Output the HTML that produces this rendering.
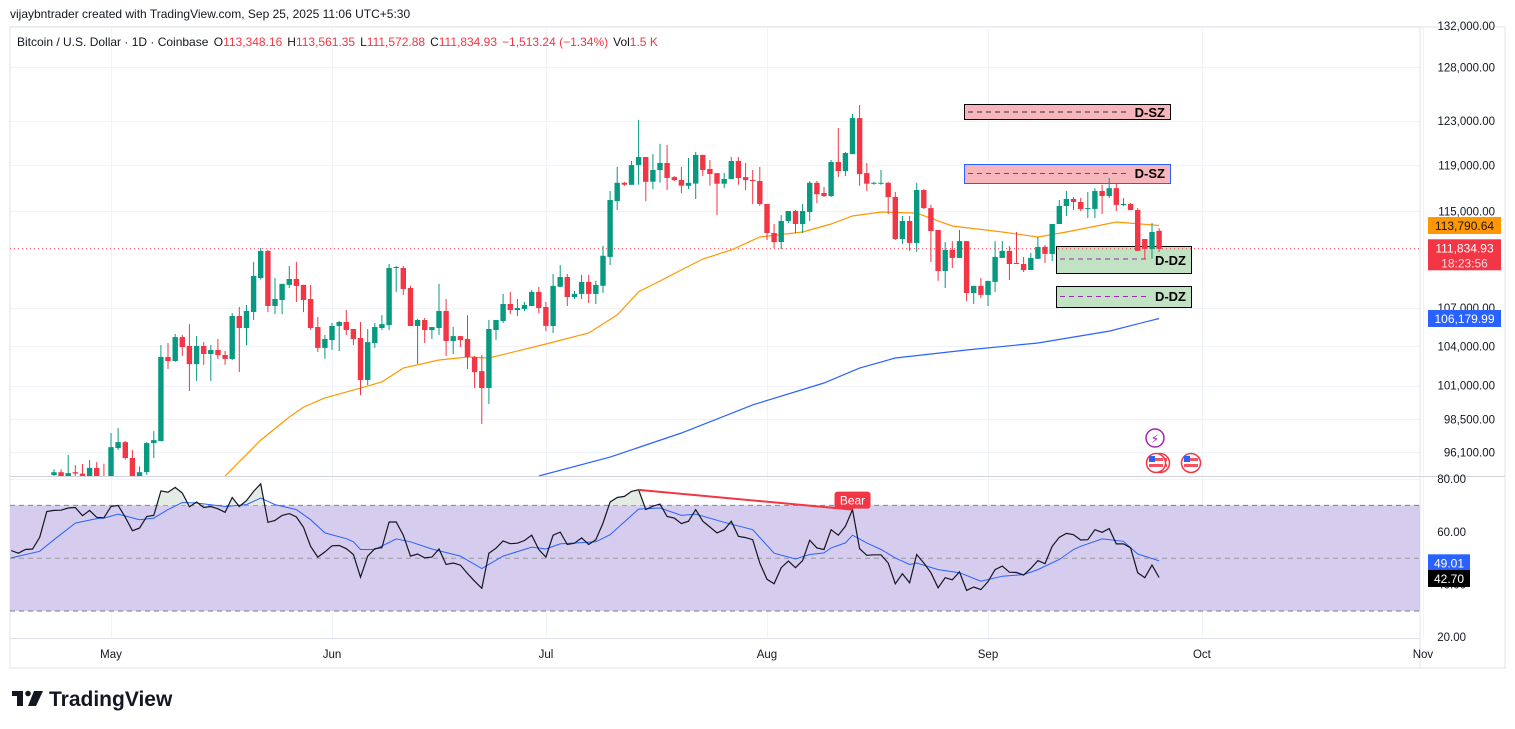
<!DOCTYPE html>
<html><head><meta charset="utf-8"><style>
html,body{margin:0;padding:0;background:#fff;}
svg{display:block;font-family:"Liberation Sans",sans-serif;}
</style></head><body>
<svg id="chart" width="1515" height="729" viewBox="0 0 1515 729">
<rect x="0" y="0" width="1515" height="729" fill="#fff"/>
<text x="10" y="18" font-size="12" fill="#131722">vijaybntrader created with TradingView.com, Sep 25, 2025 11:06 UTC+5:30</text>
<g id="grid"></g>
<g id="frame">
<rect x="10" y="27" width="1495" height="641" fill="none" stroke="#e0e3eb" stroke-width="1"/>
<line x1="1420" y1="27" x2="1420" y2="668" stroke="#e0e3eb"/>
<line x1="10" y1="476.5" x2="1505" y2="476.5" stroke="#d1d4dc"/>
<line x1="10" y1="638.5" x2="1420" y2="638.5" stroke="#e0e3eb"/>
</g>
<defs>
<clipPath id="mainClip"><rect x="10" y="27" width="1410" height="449"/></clipPath>
<clipPath id="rsiClip"><rect x="10" y="477" width="1410" height="161"/></clipPath>
<clipPath id="obClip"><rect x="10" y="477" width="1410" height="28.4"/></clipPath>
</defs>
<g id="zones" clip-path="url(#mainClip)">
<g>
<rect x="964.5" y="104.5" width="206" height="15" fill="#f7b6bb" stroke="#000" stroke-width="1"/>
<line x1="968" y1="112" x2="1128" y2="112" stroke="#333" stroke-dasharray="5,4"/>
<text x="1165" y="117" font-size="13" font-weight="bold" text-anchor="end" fill="#000">D-SZ</text></g>
<g>
<rect x="964.5" y="164.5" width="206" height="19" fill="#f7b6bb" stroke="#2962ff" stroke-width="1"/>
<line x1="968" y1="173.5" x2="1128" y2="173.5" stroke="#9c27b0" stroke-dasharray="5,4"/>
<text x="1165" y="178" font-size="13" font-weight="bold" text-anchor="end" fill="#000">D-SZ</text></g>
<g>
<rect x="1056.5" y="246.5" width="135" height="27" fill="#c2e3c3" stroke="#000" stroke-width="1"/>
<line x1="1060" y1="259" x2="1148" y2="259" stroke="#9c27b0" stroke-dasharray="5,4"/>
<text x="1186" y="265" font-size="13" font-weight="bold" text-anchor="end" fill="#000">D-DZ</text></g>
<g>
<rect x="1056.5" y="286.5" width="135" height="21" fill="#c2e3c3" stroke="#000" stroke-width="1"/>
<line x1="1060" y1="296.5" x2="1148" y2="296.5" stroke="#9c27b0" stroke-dasharray="5,4"/>
<text x="1186" y="301" font-size="13" font-weight="bold" text-anchor="end" fill="#000">D-DZ</text></g>
</g>
<g id="mainPane" clip-path="url(#mainClip)"></g>
<g id="rsiPane" clip-path="url(#rsiClip)"></g>
<g id="axes"></g>
<g font-size="12">
<text x="17" y="46" fill="#131722">Bitcoin / U.S. Dollar · 1D · Coinbase <tspan dx="2">O</tspan><tspan fill="#f23645">113,348.16</tspan><tspan dx="5">H</tspan><tspan fill="#f23645">113,561.35</tspan><tspan dx="5">L</tspan><tspan fill="#f23645">111,572.88</tspan><tspan dx="5">C</tspan><tspan fill="#f23645">111,834.93</tspan><tspan dx="5" fill="#f23645">−1,513.24 (−1.34%)</tspan><tspan dx="5">Vol</tspan><tspan fill="#f23645">1.5 K</tspan></text>
</g>
<g>
<circle cx="1155" cy="438" r="9" fill="#fff" stroke="#9c27b0" stroke-width="1.5"/>
<text x="1155" y="443" font-size="12" text-anchor="middle" fill="#9c27b0" font-family="DejaVu Sans">⚡</text>
<g><circle cx="1160" cy="463" r="9.5" fill="#fff" stroke="#f23645" stroke-width="1.5"/><rect x="1153" y="458" width="14" height="3" fill="#f7525f"/><rect x="1153" y="464" width="14" height="3" fill="#f7525f"/></g>
<g><circle cx="1156" cy="463" r="9.5" fill="#fff" stroke="#f23645" stroke-width="1.5"/><rect x="1149" y="458" width="14" height="3" fill="#f7525f"/><rect x="1149" y="464" width="14" height="3" fill="#f7525f"/><rect x="1149" y="456" width="6" height="6" fill="#2962ff"/></g>
<g><circle cx="1191" cy="463" r="9.5" fill="#fff" stroke="#f23645" stroke-width="1.5"/><rect x="1184" y="458" width="14" height="3" fill="#f7525f"/><rect x="1184" y="464" width="14" height="3" fill="#f7525f"/><rect x="1184" y="456" width="6" height="6" fill="#2962ff"/></g>
</g>
<g>
<rect x="12" y="691" width="11" height="5" fill="#131722"/><rect x="17" y="691" width="6" height="15" fill="#131722"/>
<circle cx="28" cy="693.5" r="2.8" fill="#131722"/><polygon points="34,691 43,691 36,706 28,706" fill="#131722"/>
<text x="49" y="706" font-size="21" font-weight="bold" fill="#131722">TradingView</text>
</g>
</svg>
<script>
// ---------- data ----------
const firstCandleDay = -8; // days relative to May 1
const opens = [94500,94700,94300,94700,94600,93900,95000,94300,
94200,96410,96840,95700,94200,94700,96770,96920,103180,102870,
104720,104030,102640,104030,103410,103720,103330,103030,106380,105430,
106690,109430,111660,107170,107650,108870,109350,108870,107730,105510,
103880,104490,105590,105900,105350,104650,101430,104260,105430,105660,
110250,110250,108620,105590,106060,105270,105430,106770,104410,104800,
104570,103180,102100,100820,105270,105980,107330,106850,106930,107170,
108300,107090,105590,108710,109510,107890,108140,109110,108140,108790,
111160,115880,117470,117300,119030,119750,117560,118590,119210,117970,
117710,117210,117390,119930,118680,118320,117390,117800,119390,117970,
117710,117630,115630,113160,112400,114170,115030,113920,114940,117470,
116580,116320,119300,118500,120010,123270,118320,117390,117390,117470,
116230,112650,114170,112320,116840,115280,113410,110000,111740,111080,
112480,108220,108790,108060,109110,111080,111660,110660,110580,110080,
111000,111990,111410,113920,115460,116060,115800,115200,115200,116750,
116320,117000,115550,115630,115110,112650,111820,113348.16];
const highs = [94900,94900,95920,95200,95280,95560,95420,95300,
97500,97860,96920,96270,95100,96840,97640,104100,104260,104960,
104880,105740,104800,104330,104100,104570,103640,106610,107100,107250,
110750,111910,111750,109430,108950,110410,110750,108870,108870,106300,
104880,105820,105980,106850,105350,105900,105350,105820,106450,110580,
110410,110410,108790,106140,106220,105510,108950,107730,105510,104800,
106450,103260,103330,106060,106060,108140,108300,107730,107490,108460,
108710,107490,109760,110490,109760,108380,109680,109680,109190,112080,
116750,118860,117550,119390,123090,119750,120010,120920,120820,118060,
118860,119660,120190,119930,119480,118320,118330,119750,119750,119210,
118590,118860,115630,113920,114680,115030,115110,115630,117630,117630,
117100,119480,122360,120190,123640,124480,119210,117550,118590,117550,
116670,114600,114600,117470,116920,115550,113410,112400,112480,113410,
112480,108790,109430,109190,112480,112480,112070,113240,111160,111490,
112820,112150,113920,115970,116750,116230,116140,116670,117000,117300,
117890,117470,116140,115720,115280,112650,114000,113561.35];
const lows = [94200,93200,93900,94100,93700,93500,93900,92900,
94000,96270,95600,94100,94000,94500,95700,96900,102260,102800,
103260,100600,101360,102570,101360,103030,102570,102950,102030,104100,
106060,109300,106690,106530,106530,108620,107490,106690,105270,103560,
103030,103720,103640,104880,104100,100290,101050,103880,105270,105270,
108300,108060,105590,102640,104260,104570,104880,103260,103410,103950,
102260,100820,98160,99630,104490,105820,106530,106380,106770,107170,
106610,105190,105040,108710,107170,107730,107730,107410,107330,108220,
110490,115110,117200,117300,117300,115880,116920,117470,116840,117630,
116550,116920,116060,118060,117210,114680,117000,117800,117300,116840,
115630,115460,112570,111910,111820,114000,113160,113160,114170,115710,
116230,116230,117970,118060,120010,117210,116750,117300,117300,114770,
112570,112230,111660,111580,115190,110740,109190,108620,110250,111080,
107570,107330,107810,107170,108300,111080,109270,110580,109920,110080,
111000,110660,110820,113920,114600,115110,115030,114430,114430,114770,
116140,115030,115460,115110,111660,111000,111000,111572.88];
const closes = [94700,94300,94630,94600,93900,95000,94300,94200,
96480,96840,95700,94300,94700,96770,96990,103180,102870,104720,
103950,102640,104030,103410,103720,103330,103030,106380,105430,106770,
109590,111660,107170,107730,108950,109350,108790,107650,105430,103880,
104570,105590,105900,105270,104570,101430,104330,105510,105740,110250,
110330,108540,105590,106060,105270,105510,106770,104410,104800,104490,
103180,102030,100820,105350,106060,107330,106850,107010,107250,108300,
107010,105590,108790,109510,107890,108140,109110,108140,108870,111250,
115970,117470,117300,119030,119750,117560,118590,119210,117890,117710,
117210,117470,119930,118590,118240,117390,117800,119390,117890,117710,
117630,115630,113160,112400,114170,115030,113920,115030,117470,116480,
116320,119300,118500,120100,123270,118240,117390,117470,117470,116230,
112650,114170,112320,116840,115280,113330,110000,111740,111080,112480,
108220,108790,108060,109190,111160,111660,110580,110580,110080,111080,
111990,111410,113920,115460,116060,115800,115200,115280,116750,116320,
117000,115550,115630,115110,111660,111820,113240,111834.93];
// EMA (orange) sampled: day index and value
const emaFastDays = [16,21,25,27,30,35,38,41,46,50,53,61,67,71,74,83,87,91,97,101,104,108,113,118,125,130,134,141,147];
const emaFastVals = [94430,96990,98670,99400,100080,100820,101280,102330,102950,103180,103100,104180,105040,106460,108300,110990,111740,112820,113240,113920,114600,114940,114850,113750,113240,112820,113240,114090,113790.64];
// EMA (blue) sampled
const emaSlowDays = [60,70,80,90,100,105,110,120,130,140,147];
const emaSlowVals = [94430,95770,97500,99560,101200,102330,103100,103720,104260,105190,106179.99];
// RSI
const rsiFirstDay = -14;
const rsiVals = [52.9,51.9,53.3,53.5,57.9,67.7,68.1,68.2,69.0,69.2,
66.1,68.1,65.5,65.3,69.6,70.0,65.5,60.4,61.4,65.8,
66.2,75.5,75.0,76.8,74.7,69.5,71.3,69.2,69.6,68.7,
67.4,73.0,69.6,71.8,75.3,78.2,63.6,64.3,66.2,66.9,
65.6,61.7,54.5,50.4,52.4,54.7,54.8,53.6,51.4,42.8,
50.8,53.6,54.0,63.7,63.7,58.7,50.8,51.6,50.1,50.4,
53.5,47.6,48.2,47.4,44.2,41.3,38.6,51.9,53.8,56.5,
55.5,55.7,56.7,58.7,53.3,50.4,58.7,59.9,55.2,55.7,
57.7,55.2,57.0,63.3,71.3,73.0,73.4,75.3,75.9,68.4,
69.7,70.5,65.8,65.2,63.1,64.0,68.4,64.0,61.8,59.6,
60.8,64.0,58.3,57.8,57.0,48.2,42.0,40.3,46.4,48.9,
46.4,49.1,56.8,53.9,53.3,60.8,58.7,62.1,68.4,53.6,
51.1,51.3,51.3,48.2,40.3,44.1,40.7,51.4,48.2,44.5,
38.8,42.6,41.8,44.8,37.8,39.1,38.1,41.1,45.7,47.0,
44.7,44.6,43.6,46.1,49.1,47.9,54.5,57.9,59.4,58.9,
56.9,57.0,60.8,59.8,61.2,55.4,55.4,53.9,44.5,42.6,
47.4,42.70];
const rsiMaIdx = [0,4,6,9,12,13,15,18,20,22,24,26,30,33,35,37,40,42,44,47,48,49,51,54,56,59,63,66,69,73,75,77,82,84,88,91,94,96,100,104,107,110,112,114,115,117,118,120,122,124,126,127,130,133,136,139,142,144,147,149,150,153,156,158,161];
const rsiMaVals = [50.1,52.6,57.0,63.3,65.0,65.2,66.7,64.6,65.2,68.4,71.1,70.9,69.6,70.3,72.8,70.3,68.4,64.6,59.6,57.4,56.2,53.3,53.3,57.3,56.2,53.5,50.8,46.1,50.8,54.2,53.5,55.4,56.2,58.9,68.6,69.0,66.2,66.7,63.6,60.8,51.9,49.7,51.4,52.0,53.9,55.8,58.7,55.8,53.3,50.1,47.6,48.2,45.7,44.5,41.3,43.2,43.8,45.7,49.5,53.3,54.5,57.3,56.4,51.6,49.01];
const bearFromIdx = 88, bearToIdx = 118;
// axis ticks
const priceTicks = [132000,128000,123000,119000,115000,107000,104000,101000,98500,96100];
const rsiTicks = [80,60,40,20];
const monthLabels = ["May","Jun","Jul","Aug","Sep","Oct","Nov"];
const monthDays = [0,31,61,92,123,153,184];
const lastPrice = 111834.93, emaFastLast = 113790.64, emaSlowLast = 106179.99;
const rsiLast = 42.70, rsiMaLast = 49.01;

// ---------- scales ----------
const NS = "http://www.w3.org/2000/svg";
function xDay(d){ return 111 + d*7.13; }
function yPrice(p){ return 121 - 1343*Math.log(p/123000); }
function yRsi(v){ return 479 + (80 - v)*2.64; }
function mk(tag, attrs, parent){ const e=document.createElementNS(NS,tag); for(const k in attrs) e.setAttribute(k, attrs[k]); parent.appendChild(e); return e; }
function fmt(n){ return n.toLocaleString("en-US",{minimumFractionDigits:2,maximumFractionDigits:2}); }

const grid = document.getElementById("grid");
const main = document.getElementById("mainPane");
const rsiG = document.getElementById("rsiPane");
const axes = document.getElementById("axes");

// grid
priceTicks.forEach(p=>{ const y=Math.round(yPrice(p))+0.5; const l=mk("line",{x1:10,x2:1420,y1:y,y2:y,stroke:"#f0f3fa"},grid);

 });
rsiTicks.forEach(v=>{ const y=Math.round(yRsi(v))+0.5; if(y<478||y>637) return; const l=mk("line",{x1:10,x2:1420,y1:y,y2:y,stroke:"#f0f3fa"},grid);

 });
monthDays.forEach(d=>{ const x=Math.round(xDay(d))+0.5; const l=mk("line",{x1:x,x2:x,y1:27,y2:638,stroke:"#f0f3fa"},grid);

 });

// last price dotted line
const yl = yPrice(lastPrice);
const pl = mk("line",{x1:10,x2:1420,y1:yl,y2:yl,stroke:"#f23645","stroke-dasharray":"1,3"},main);



// MA lines
function maPath(days, vals, color, name){
  const pts = days.map((d,i)=>xDay(d).toFixed(1)+","+yPrice(vals[i]).toFixed(1)).join(" ");
  const e = mk("polyline",{points:pts,fill:"none",stroke:color,"stroke-width":1.2},main);
  
  
}
maPath(emaSlowDays, emaSlowVals, "#2962ff", "ema-slow-line");
maPath(emaFastDays, emaFastVals, "#ff9800", "ema-fast-line");

// candles
for(let i=0;i<closes.length;i++){
  const d = firstCandleDay + i, x = xDay(d);
  const up = closes[i] >= opens[i];
  const col = up ? "#089981" : "#f23645";
  const g = mk("g",{},main);
  
  
  mk("line",{x1:x.toFixed(1),x2:x.toFixed(1),y1:yPrice(highs[i]).toFixed(1),y2:yPrice(lows[i]).toFixed(1),stroke:col,"stroke-width":1},g);
  const yt = yPrice(Math.max(opens[i],closes[i])), yb = yPrice(Math.min(opens[i],closes[i]));
  mk("rect",{x:(x-2.7).toFixed(1),y:yt.toFixed(1),width:5.4,height:Math.max(1,yb-yt).toFixed(1),fill:col},g);
}

// RSI pane
const band = mk("rect",{x:10,y:yRsi(70),width:1410,height:yRsi(30)-yRsi(70),fill:"#d6cced"},rsiG);


[70,50,30].forEach(v=>{ const y=yRsi(v); const l=mk("line",{x1:10,x2:1420,y1:y,y2:y,stroke:v===50?"#9b9aa3":"#787b86","stroke-dasharray":"5,4"},rsiG);

 });
const rsiPts = rsiVals.map((v,i)=>[xDay(rsiFirstDay+i), yRsi(v)]);
const ob = mk("path",{d:"M"+rsiPts[0][0]+","+yRsi(70)+" L"+rsiPts.map(p=>p[0].toFixed(1)+","+p[1].toFixed(1)).join(" L")+" L"+rsiPts[rsiPts.length-1][0]+","+yRsi(70)+" Z",fill:"#e3ebe3","clip-path":"url(#obClip)"},rsiG);


const rma = mk("polyline",{points:rsiMaIdx.map((k,i)=>xDay(rsiFirstDay+k).toFixed(1)+","+yRsi(rsiMaVals[i]).toFixed(1)).join(" "),fill:"none",stroke:"#2962ff","stroke-width":1},rsiG);


const rl = mk("polyline",{points:rsiPts.map(p=>p[0].toFixed(1)+","+p[1].toFixed(1)).join(" "),fill:"none",stroke:"#131722","stroke-width":1.2},rsiG);


// bear divergence
const bx1=xDay(rsiFirstDay+bearFromIdx), by1=yRsi(rsiVals[bearFromIdx]), bx2=xDay(rsiFirstDay+bearToIdx), by2=yRsi(rsiVals[bearToIdx]);
const bl = mk("line",{x1:bx1,y1:by1,x2:bx2,y2:by2,stroke:"#f23645","stroke-width":2},rsiG);


const bg = mk("g",{},document.getElementById("chart"));


mk("rect",{x:bx2-18,y:by2-18,width:36,height:17,rx:3,fill:"#f23645"},bg);
const bt = mk("text",{x:bx2,y:by2-5,"font-size":12,"text-anchor":"middle",fill:"#fff"},bg); bt.textContent="Bear";

// price axis labels
priceTicks.forEach(p=>{ const t=mk("text",{x:1495,y:yPrice(p)+4,"font-size":11.5,"text-anchor":"end",fill:"#131722"},axes); t.textContent=fmt(p);

 });
rsiTicks.forEach(v=>{ const t=mk("text",{x:1466,y:Math.min(yRsi(v)+4,641),"font-size":11.5,"text-anchor":"end",fill:"#131722"},axes); t.textContent=v.toFixed(2);

 });
monthLabels.forEach((m,i)=>{ const t=mk("text",{x:xDay(monthDays[i]),y:658,"font-size":11.5,"text-anchor":"middle",fill:"#131722"},axes); t.textContent=m;

 });

// tags
function tag(y, h, w, fill, lines, name){
  const g = mk("g",{},axes);
  
  
  mk("rect",{x:1428,y:y-8.5,width:w,height:h,fill:fill},g);
  lines.forEach((s,i)=>{ const t=mk("text",{x:1428+w/2,y:y+4.5+i*15,"font-size":12,"text-anchor":"middle",fill:"#fff"},g); t.textContent=s; if(i===1) t.setAttribute("fill-opacity","0.8"); });
  return g;
}
const tf = tag(yPrice(emaFastLast), 17, 73, "#ff9800", [fmt(emaFastLast)], "ema-fast-tag");
tf.querySelector("text").setAttribute("fill","#131722");
tag(yPrice(lastPrice)-1, 31, 73, "#f23645", [fmt(lastPrice),"18:23:56"], "last-price-tag");
tag(yPrice(emaSlowLast), 17, 73, "#2962ff", [fmt(emaSlowLast)], "ema-slow-tag");
tag(yRsi(rsiMaLast)+2, 17, 42, "#2962ff", [rsiMaLast.toFixed(2)], "rsi-ma-tag");
tag(yRsi(rsiLast)+1, 17, 42, "#000", [rsiLast.toFixed(2)], "rsi-tag");
</script>
</body></html>
